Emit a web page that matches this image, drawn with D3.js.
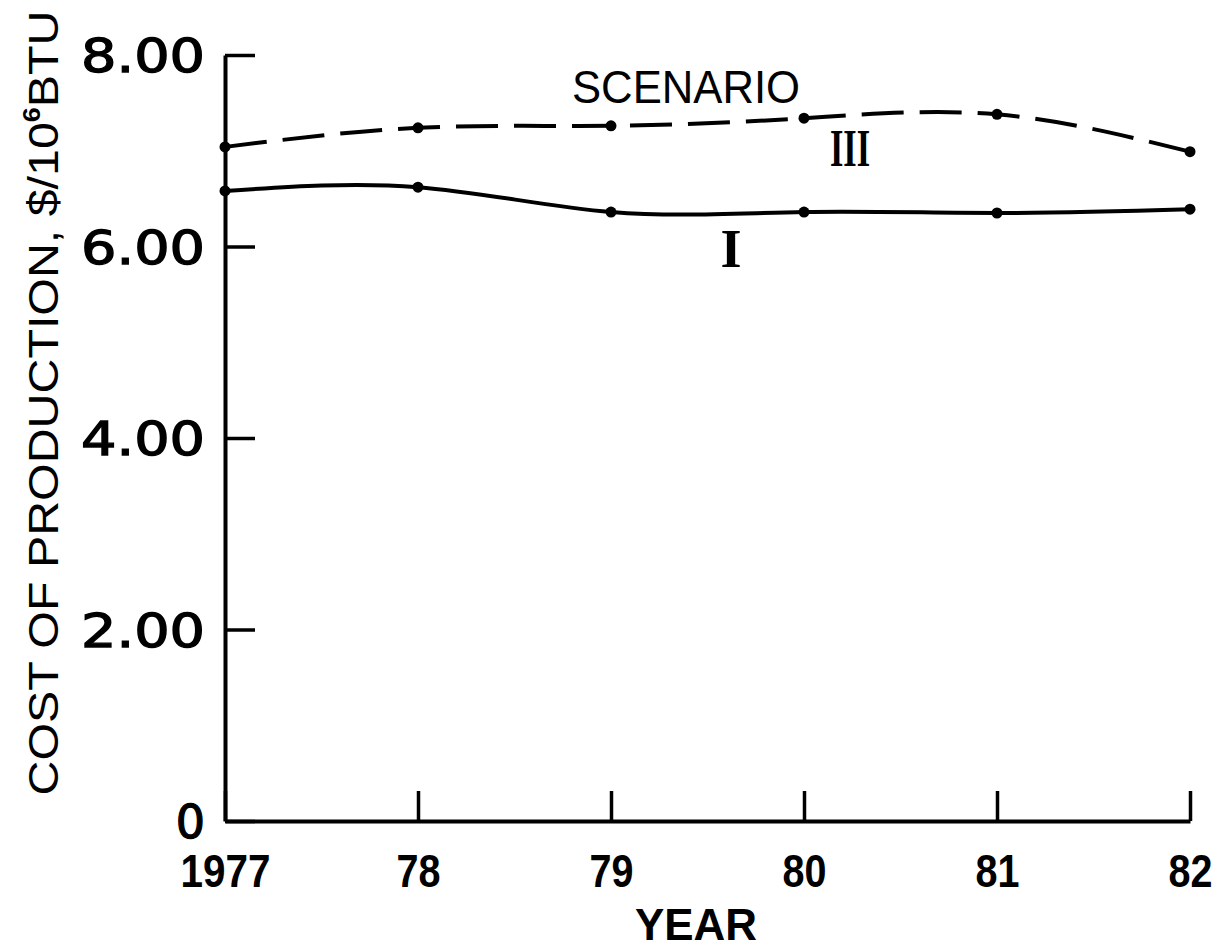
<!DOCTYPE html>
<html>
<head>
<meta charset="utf-8">
<script src="https://cdn.jsdelivr.net/npm/d3@7"></script>
<style>
  body { margin: 0; background: #fff; }
  svg { display: block; }
</style>
</head>
<body>
<div id="chart"></div>
<script>
// Data
const years = [1977, 1978, 1979, 1980, 1981, 1982];
const yearLabels = ['1977', '78', '79', '80', '81', '82'];
const scenarioI = [6.58, 6.62, 6.36, 6.36, 6.35, 6.39];
const scenarioIII = [7.04, 7.24, 7.26, 7.34, 7.38, 6.99];
const yTicks = [0, 2, 4, 6, 8];
const yTickLabels = ['0', '2.00', '4.00', '6.00', '8.00'];

const width = 1220, height = 949;

const svg = d3.select('#chart').append('svg')
    .attr('width', width)
    .attr('height', height);

// Scales
const x = d3.scaleLinear().domain([1977, 1982]).range([225, 1190]);
const y = d3.scaleLinear().domain([0, 8]).range([821, 55]);

// Axes (ticks point inward)
const xAxis = svg.append('g')
    .attr('transform', `translate(0,${y(0)})`)
    .call(d3.axisBottom(x)
        .tickValues(years)
        .tickFormat((d, i) => yearLabels[i])
        .tickSizeInner(-30)
        .tickSizeOuter(0)
        .tickPadding(33));

const yAxis = svg.append('g')
    .attr('transform', `translate(${x(1977)},0)`)
    .call(d3.axisLeft(y)
        .tickValues(yTicks)
        .tickFormat((d, i) => yTickLabels[i])
        .tickSizeInner(-30)
        .tickSizeOuter(0)
        .tickPadding(20));

[xAxis, yAxis].forEach(g => {
    g.select('.domain').attr('stroke', '#000').attr('stroke-width', 4);
    g.selectAll('.tick line').attr('stroke', '#000').attr('stroke-width', 3.5);
});

// condensed lettering for the years
xAxis.selectAll('.tick text')
    .attr('fill', '#000')
    .style('font-family', '"Liberation Sans", Arial, sans-serif')
    .style('font-weight', 'bold')
    .style('font-size', '46px')
    .attr('textLength', d => d === 1977 ? 90 : 44)
    .attr('lengthAdjust', 'spacingAndGlyphs');

// wide, round lettering for the values
yAxis.selectAll('.tick text')
    .attr('fill', '#000')
    .attr('stroke', '#000')
    .attr('stroke-width', 1.3)
    .attr('dy', '0.36em')
    .style('font-family', '"DejaVu Sans", sans-serif')
    .style('font-size', '46px')
    .each(function(d) {
        if (d > 0) d3.select(this).attr('textLength', 124).attr('lengthAdjust', 'spacingAndGlyphs');
    });

// Axis titles
svg.append('text')
    .attr('x', 696)
    .attr('y', 940)
    .attr('text-anchor', 'middle')
    .style('font-family', '"Liberation Sans", Arial, sans-serif')
    .style('font-weight', 'bold')
    .style('font-size', '44px')
    .attr('textLength', 122)
    .attr('lengthAdjust', 'spacingAndGlyphs')
    .text('YEAR');

const yTitle = svg.append('text')
    .attr('transform', 'translate(58,403) rotate(-90)')
    .attr('text-anchor', 'middle')
    .style('font-family', '"Liberation Sans", Arial, sans-serif')
    .style('font-size', '43px')
    .attr('textLength', 785)
    .attr('lengthAdjust', 'spacingAndGlyphs');
yTitle.append('tspan').text('COST OF PRODUCTION, $/10');
yTitle.append('tspan').attr('dy', -18).style('font-size', '24px').style('font-weight', 'bold').text('6');
yTitle.append('tspan').attr('dy', 18).text('BTU');

// Lines
const line = d3.line()
    .x((d, i) => x(years[i]))
    .y(d => y(d))
    .curve(d3.curveNatural);

svg.append('path')
    .datum(scenarioIII)
    .attr('d', line)
    .attr('fill', 'none')
    .attr('stroke', '#000')
    .attr('stroke-width', 4)
    .attr('stroke-dasharray', '42,16');

svg.append('path')
    .datum(scenarioI)
    .attr('d', line)
    .attr('fill', 'none')
    .attr('stroke', '#000')
    .attr('stroke-width', 4);

// Data points
[scenarioIII, scenarioI].forEach(series => {
    svg.append('g').selectAll('circle')
        .data(series)
      .enter().append('circle')
        .attr('cx', (d, i) => x(years[i]))
        .attr('cy', d => y(d))
        .attr('r', 5.5)
        .attr('fill', '#000');
});

// Labels
svg.append('text')
    .attr('x', 686)
    .attr('y', 103)
    .attr('text-anchor', 'middle')
    .style('font-family', '"Liberation Sans", Arial, sans-serif')
    .style('font-size', '47px')
    .attr('textLength', 228)
    .attr('lengthAdjust', 'spacingAndGlyphs')
    .text('SCENARIO');

svg.append('text')
    .attr('x', 850)
    .attr('y', 166)
    .attr('text-anchor', 'middle')
    .style('font-family', '"Liberation Serif", "DejaVu Serif", serif')
    .style('font-weight', 'bold')
    .style('font-size', '52px')
    .attr('textLength', 40)
    .attr('lengthAdjust', 'spacingAndGlyphs')
    .text('III');

svg.append('text')
    .attr('x', 731)
    .attr('y', 267)
    .attr('text-anchor', 'middle')
    .style('font-family', '"Liberation Serif", "DejaVu Serif", serif')
    .style('font-weight', 'bold')
    .style('font-size', '54px')
    .text('I');
</script>
</body>
</html>
